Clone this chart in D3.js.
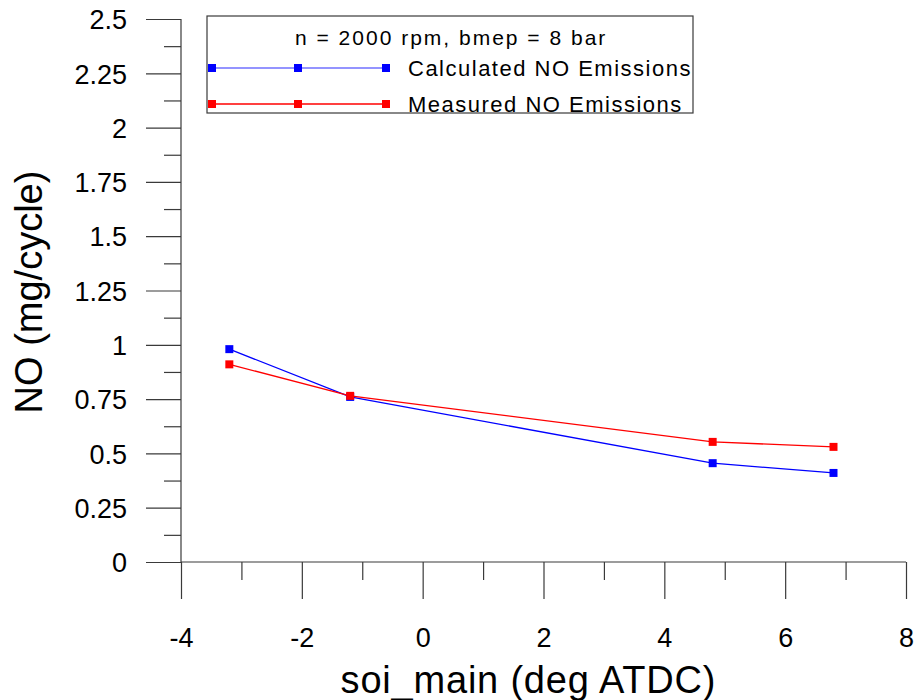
<!DOCTYPE html>
<html>
<head>
<meta charset="utf-8">
<script src="https://cdn.jsdelivr.net/npm/d3@7"></script>
<style>
  html, body { margin: 0; padding: 0; background: #fff; }
  svg { display: block; font-family: "Liberation Sans", Arial, sans-serif; }
</style>
</head>
<body>
<svg id="chart" width="915" height="700"></svg>
<script>
// Start of main injection (deg ATDC)
const soiMain = [-3.2, -1.2, 4.8, 6.8];
// NO per cycle (mg)
const calculatedNO = [0.98, 0.76, 0.455, 0.41];
const measuredNO = [0.91, 0.765, 0.553, 0.53];
const xTicks = [-4, -2, 0, 2, 4, 6, 8];
const xTickLabels = ["-4", "-2", "0", "2", "4", "6", "8"];
const yTicks = [0, 0.25, 0.5, 0.75, 1, 1.25, 1.5, 1.75, 2, 2.25, 2.5];
const yTickLabels = ["0", "0.25", "0.5", "0.75", "1", "1.25", "1.5", "1.75", "2", "2.25", "2.5"];
const legendTitle = "n = 2000 rpm, bmep = 8 bar";
const seriesNames = ["Calculated NO Emissions", "Measured NO Emissions"];
const seriesColors = ["#0000ff", "#ff0000"];

const svg = d3.select("#chart");
const margin = { left: 181, top: 19, right: 9, bottom: 138 };
const W = 915 - margin.left - margin.right;
const H = 700 - margin.top - margin.bottom;

const x = d3.scaleLinear().domain([-4, 8]).range([0, W]);
const y = d3.scaleLinear().domain([0, 2.5]).range([H, 0]);

const g = svg.append("g").attr("transform", `translate(${margin.left},${margin.top})`);
const axisColor = "#3a3a3a";

// x axis: major ticks every 2, minor ticks at odd values
const xMinor = d3.range(-3, 8, 2);
const gxMinor = g.append("g").attr("transform", `translate(0,${H})`)
  .call(d3.axisBottom(x).tickValues(xMinor).tickSize(18).tickFormat(""));
const gx = g.append("g").attr("transform", `translate(0,${H})`)
  .call(d3.axisBottom(x).tickValues(xTicks).tickSize(37).tickPadding(29)
    .tickFormat((d, i) => xTickLabels[i]));

// y axis: major ticks every 0.25, minor ticks halfway
const yMinor = d3.range(0.125, 2.5, 0.25);
const gyMinor = g.append("g")
  .call(d3.axisLeft(y).tickValues(yMinor).tickSize(17).tickFormat(""));
const gy = g.append("g")
  .call(d3.axisLeft(y).tickValues(yTicks).tickSize(35).tickPadding(19)
    .tickFormat((d, i) => yTickLabels[i]));

[gx, gy, gxMinor, gyMinor].forEach(a => {
  a.select(".domain").attr("stroke", axisColor).attr("stroke-width", 1.2);
  a.selectAll(".tick line").attr("stroke", axisColor).attr("stroke-width", 1.2);
});
gxMinor.select(".domain").remove();
gyMinor.select(".domain").remove();
// keep only the spine lines (no outer end ticks)
gx.select(".domain").attr("d", `M0,0H${W}`);
gy.select(".domain").attr("d", `M0,0V${H}`);

gx.selectAll(".tick text").attr("font-size", 27).attr("fill", "#000")
  .attr("font-family", "Liberation Sans, Arial, sans-serif");
gy.selectAll(".tick text").attr("font-size", 27).attr("fill", "#000")
  .attr("font-family", "Liberation Sans, Arial, sans-serif").attr("dy", "0.36em");

// Axis titles
svg.append("text")
  .attr("x", margin.left + x(1.75)).attr("y", 693)
  .attr("text-anchor", "middle").attr("font-size", 38).attr("letter-spacing", 0.8)
  .text("soi_main (deg ATDC)");
svg.append("text")
  .attr("transform", "translate(42,292) rotate(-90)")
  .attr("text-anchor", "middle").attr("font-size", 38)
  .text("NO (mg/cycle)");

// Series
const series = [calculatedNO, measuredNO];
const line = d3.line().x((d, i) => x(soiMain[i])).y(d => y(d));
const marker = "M-4,-4H4V4H-4Z";

series.forEach((vals, s) => {
  g.append("path").datum(vals)
    .attr("fill", "none").attr("stroke", seriesColors[s]).attr("stroke-width", 1.3)
    .attr("d", line);
  g.selectAll(null).data(vals).enter().append("path")
    .attr("transform", (d, i) => `translate(${x(soiMain[i])},${y(d)})`)
    .attr("d", marker).attr("fill", seriesColors[s]);
});

// Legend
const lg = svg.append("g");
lg.append("rect").attr("x", 207).attr("y", 16).attr("width", 486).attr("height", 97)
  .attr("fill", "#fff").attr("stroke", axisColor).attr("stroke-width", 1.2);
lg.append("text").attr("x", 295).attr("y", 45).attr("font-size", 21).attr("letter-spacing", 2)
  .text(legendTitle);
const legY = [68, 104];
seriesNames.forEach((name, s) => {
  const ly = legY[s];
  lg.append("line").attr("x1", 212).attr("x2", 386).attr("y1", ly).attr("y2", ly)
    .attr("stroke", s === 0 ? "#7070ff" : seriesColors[s]).attr("stroke-width", 1.5);
  [212, 298, 386].forEach(mx => {
    lg.append("path").attr("transform", `translate(${mx},${ly})`)
      .attr("d", marker).attr("fill", seriesColors[s]);
  });
  lg.append("text").attr("x", 408).attr("y", ly + 8).attr("font-size", 22).attr("letter-spacing", 1.5)
    .text(name);
});
</script>
</body>
</html>
